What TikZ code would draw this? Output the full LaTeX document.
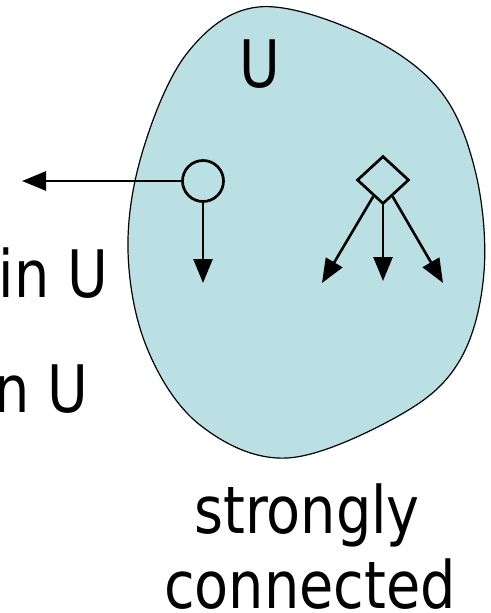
\documentclass[tikz,border=0pt]{standalone}
\usepackage{tikz}
\usepackage{fontspec}
\setmainfont{DejaVu Sans}[FakeStretch=0.85]
\usetikzlibrary{shapes.geometric,arrows.meta}
\usepackage{color}
\definecolor{blobfill}{RGB}{187,224,227}

\begin{document}
\begin{tikzpicture}
  [x=1pt,y=-1pt]
      \tikzstyle{arrow_style} = [draw=black, line width=2.6pt, -{Triangle[length=24pt,width=19pt]}]
      \tikzstyle{big_text} = [inner sep=0, font=\fontsize{65.5}{76}\selectfont]
  \useasboundingbox (0,0) rectangle (490,613);
  % the set U
  \draw[fill=blobfill, line width=1.2pt] plot[smooth cycle, tension=0.6] coordinates {
    (258,7) (360,33) (438,88) (475,170) (484,272) (460,360) (400,415)
    (287,458) (200,425) (147,348) (128,250) (143,150) (188,52)};
  \node[big_text, anchor=base] (setU) at (260,87) {U};
  \node[big_text, anchor=base east] (inU) at (108,297) {in U};
  \node[big_text, anchor=base east] (ninU) at (88,412) {n U};
  \node[big_text, anchor=base] (strong) at (307,533) {strongly};
  \node[big_text, anchor=base] (conn) at (310,608) {connected};
  % vertices
  \node[circle, draw, line width=2.7pt, minimum size=41pt, inner sep=0] (circ) at (203,181) {};
  \node[diamond, draw, line width=2.7pt, minimum width=52pt, minimum height=48pt, inner sep=0] (dia) at (383,180) {};
  \coordinate (out) at (22,181);
  \coordinate (cdown) at (203,283);
  \coordinate (dleft) at (322,283);
  \coordinate (ddown) at (383,281);
  \coordinate (dright) at (443,283);
  \draw[arrow_style] (circ) -- (out);
  \draw[arrow_style] (circ) -- (cdown);
  \draw[arrow_style] (dia) -- (dleft);
  \draw[arrow_style] (dia) -- (ddown);
  \draw[arrow_style] (dia) -- (dright);
\end{tikzpicture}
\end{document}
